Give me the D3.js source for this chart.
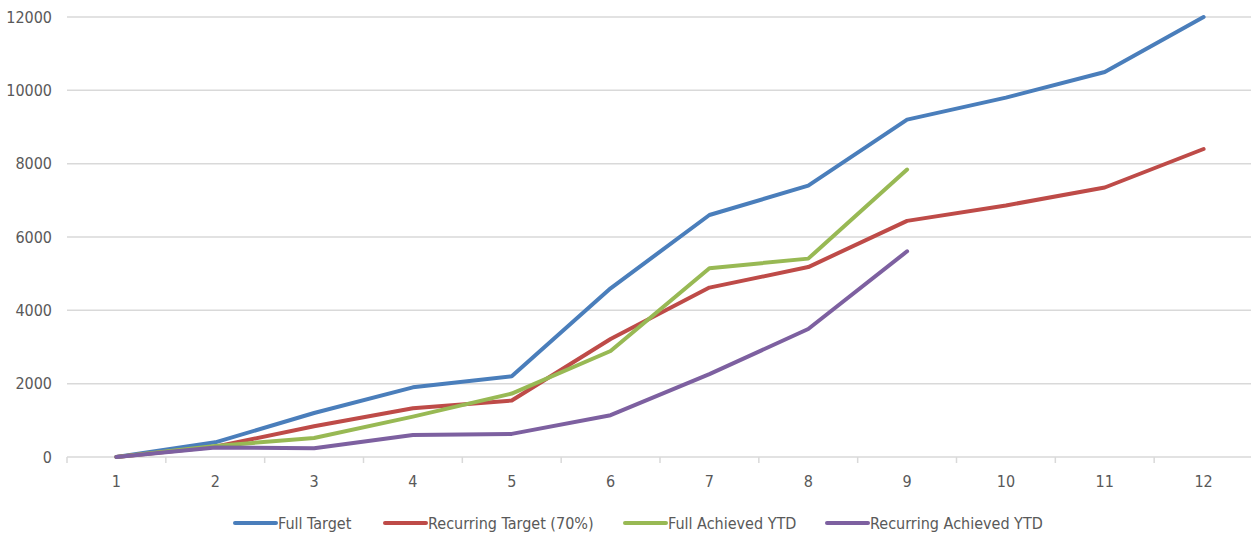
<!DOCTYPE html>
<html>
<head>
<meta charset="utf-8">
<script src="https://cdn.jsdelivr.net/npm/d3@7"></script>
<style>
  html, body { margin: 0; padding: 0; background: #fff; }
  svg { display: block; }
  text { font-family: "Liberation Sans Narrow", "DejaVu Sans Condensed", Roboto, sans-serif; fill: #595959; }
</style>
</head>
<body>
<svg id="chart" width="1251" height="536"></svg>
<script>
// Monthly periods
const months = [1, 2, 3, 4, 5, 6, 7, 8, 9, 10, 11, 12];

// Cumulative targets and achievements
const fullTarget        = [0, 400, 1200, 1900, 2200, 4600, 6600, 7400, 9200, 9800, 10500, 12000];
const recurringTarget   = [0, 280, 840, 1330, 1540, 3220, 4620, 5180, 6440, 6860, 7350, 8400];
const fullAchieved      = [0, 300, 520, 1100, 1730, 2890, 5150, 5410, 7840];
const recurringAchieved = [0, 260, 240, 600, 630, 1140, 2260, 3490, 5610];

const yTicks = [0, 2000, 4000, 6000, 8000, 10000, 12000];

const seriesNames  = ["Full Target", "Recurring Target (70%)", "Full Achieved YTD", "Recurring Achieved YTD"];
const seriesValues = [fullTarget, recurringTarget, fullAchieved, recurringAchieved];
const seriesColors = ["#4a7ebb", "#be4b48", "#98b954", "#7d60a0"];

const svg = d3.select("#chart");
const margin = { left: 67, right: 1253, top: 17, bottom: 457 };

const x = d3.scaleBand().domain(months).range([margin.left, margin.right]);
const y = d3.scaleLinear().domain([0, 12000]).range([margin.bottom, margin.top]);
const cx = d => x(d) + x.bandwidth() / 2;

// Horizontal gridlines
svg.append("g")
  .selectAll("line")
  .data(yTicks.filter(t => t > 0))
  .join("line")
  .attr("x1", margin.left).attr("x2", margin.right)
  .attr("y1", d => y(d)).attr("y2", d => y(d))
  .attr("stroke", "#d9d9d9").attr("stroke-width", 1.5);

// Y axis labels
const yAxis = d3.axisLeft(y).tickValues(yTicks).tickSize(0).tickPadding(15).tickFormat(d3.format("d"));
const gy = svg.append("g").attr("transform", `translate(${margin.left},0)`).call(yAxis);
gy.select(".domain").remove();
gy.selectAll("text").attr("font-size", 16).style("fill", "#595959");

// Category axis with ticks between categories
const gx = svg.append("g").attr("transform", `translate(0,${margin.bottom})`);
gx.append("line")
  .attr("x1", margin.left).attr("x2", margin.right)
  .attr("stroke", "#d9d9d9").attr("stroke-width", 1.5);
gx.selectAll("line.tick")
  .data(d3.range(months.length + 1))
  .join("line").attr("class", "tick")
  .attr("x1", i => margin.left + i * x.step()).attr("x2", i => margin.left + i * x.step())
  .attr("y1", 0).attr("y2", 6)
  .attr("stroke", "#d9d9d9").attr("stroke-width", 1.5);
gx.selectAll("text")
  .data(months)
  .join("text")
  .attr("x", d => cx(d)).attr("y", 30)
  .attr("text-anchor", "middle")
  .attr("font-size", 16)
  .text(d => d);

// Series lines
const line = d3.line().x((d, i) => cx(months[i])).y(d => y(d));
svg.append("g")
  .selectAll("path")
  .data(seriesValues)
  .join("path")
  .attr("d", d => line(d))
  .attr("fill", "none")
  .attr("stroke", (d, i) => seriesColors[i])
  .attr("stroke-width", 4)
  .attr("stroke-linejoin", "round")
  .attr("stroke-linecap", "round");

// Legend
const legendX = [235, 385, 625, 827];
const lg = svg.append("g").attr("transform", "translate(0,523)");
const items = lg.selectAll("g").data(seriesNames).join("g")
  .attr("transform", (d, i) => `translate(${legendX[i]},0)`);
items.append("line")
  .attr("x1", 0).attr("x2", 41).attr("y1", 0).attr("y2", 0)
  .attr("stroke", (d, i) => seriesColors[i])
  .attr("stroke-width", 4).attr("stroke-linecap", "round");
items.append("text")
  .attr("x", 43).attr("y", 0).attr("dy", "0.35em")
  .attr("font-size", 16)
  .text(d => d);
</script>
</body>
</html>
